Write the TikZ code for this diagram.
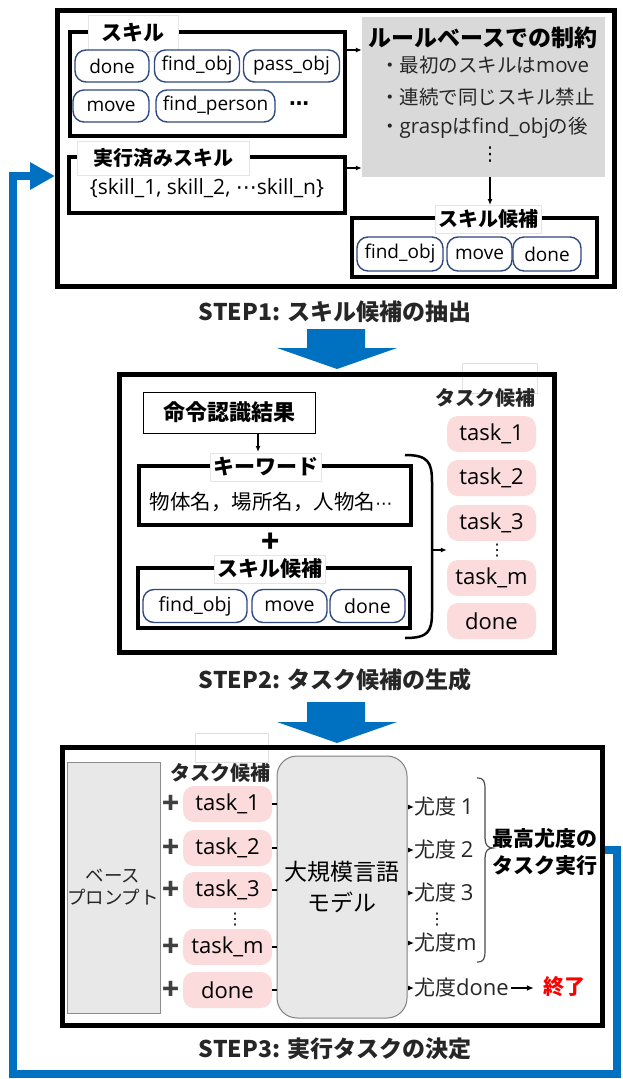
\documentclass[tikz,border=0pt]{standalone}
\usepackage{fontspec}
\setmainfont{Noto Sans CJK JP}
\newfontfamily\lat{Open Sans}
\newfontfamily\dv{DejaVu Sans}
\usetikzlibrary{arrows.meta,fit,calc}
\definecolor{bblue}{RGB}{0,112,192}
\definecolor{pillblue}{RGB}{47,72,128}
\definecolor{pinkfill}{RGB}{251,219,219}
\definecolor{rulegray}{RGB}{217,217,217}
\definecolor{boxgray}{RGB}{232,232,232}
\definecolor{plusgray}{RGB}{64,64,64}
\newcommand{\fsz}[1]{\fontsize{#1}{#1}\selectfont}
\newcommand{\vd}{{\dv ⋮}}
\newcommand{\hd}{{\dv ⋯}}
\tikzset{
  frame/.style={draw=black, line width=5pt, inner sep=0pt},
  subframe/.style={draw=black, line width=3.5pt, inner sep=0pt},
  skillpill/.style={draw=pillblue, line width=1.4pt, rounded corners=11pt, fill=white,
     minimum height=32pt, inner sep=0pt, font=\lat\fsz{19}},
  taskpill/.style={fill=pinkfill, rounded corners=11pt, minimum height=36pt,
     minimum width=89pt, inner sep=0pt, font=\lat\fsz{22}},
  lbl/.style={fill=white, draw=black!10, line width=0.6pt, font=\bfseries\fsz{20}, inner sep=3pt},
  sm/.style={-{Latex[length=6pt,width=5pt]}, line width=1.3pt},
  txt/.style={inner sep=0pt, font=\fsz{19}},
  title/.style={inner sep=0pt, font=\bfseries\fsz{23}, text=black!85},
  plus/.style={inner sep=0pt, font=\bfseries\fsz{30}},
  ghost/.style={draw=black!12, line width=0.6pt, fill=white},
  fb/.style={draw=bblue, line width=8pt, -{Triangle[length=25pt,width=26pt]}},
  blockarrow/.style={fill=bblue}
}
\begin{document}
\begin{tikzpicture}[x=1pt,y=-1pt]
\useasboundingbox (0,0) rectangle (622,1079);

% ================= STEP 1 =================
\node[frame, fit={(57.5,10) (614,286)}] (step1) {};

\node[subframe, fit={(70,32) (345,136)}] (skillbox) {};
\node[lbl, minimum width=90pt, minimum height=36pt, font=\bfseries\fsz{21}] (skilllbl) at (133,33) {スキル};
\node[skillpill, minimum width=74pt] (s1) at (112,66) {done};
\node[skillpill, minimum width=85pt] (s2) at (197,66) {find\_obj};
\node[skillpill, minimum width=96pt] (s3) at (291.5,66) {pass\_obj};
\node[skillpill, minimum width=76pt] (s4) at (111,106) {move};
\node[skillpill, minimum width=119pt] (s5) at (215.5,106) {find\_person};
\node[inner sep=0pt, font=\dv\bfseries\fsz{20}] (sdots) at (299,106) {⋯};

\node[subframe, fit={(69,157) (345,213)}] (execbox) {};
\node[lbl, minimum width=172pt, minimum height=34pt] (execlbl) at (163,158) {実行済みスキル};
\node[txt, font=\lat\fsz{21}] (exectxt) at (207,188) {\{skill\_1, skill\_2, \hd skill\_n\}};

\node[fill=rulegray, inner sep=0pt, fit={(362,17) (605,177)}] (rulebox) {};
\node[inner sep=0pt, font=\bfseries\fsz{23}] (ruletitle) at (483,38) {ルールベースでの制約};
\node[txt, anchor=west, font=\fsz{19.5}, text=black!85] (r1) at (380,65) {・最初のスキルは{\lat\fsz{20.5}move}};
\node[txt, anchor=west, font=\fsz{19.5}, text=black!85] (r2) at (380,97) {・連続で同じスキル禁止};
\node[txt, anchor=west, font=\fsz{19.5}, text=black!85] (r3) at (380,128) {・{\lat\fsz{20.5}grasp}は{\lat\fsz{20.5}find\_obj}の後};
\node[txt, font=\fsz{19}] (rdots) at (490,155) {\vd};

\draw[sm] (skillbox.east |- 0,50) -- (rulebox.west |- 0,50);
\draw[sm] (execbox.east |- 0,168) -- (rulebox.west |- 0,168);

\node[subframe, fit={(352,218) (597,277)}] (candbox) {};
\draw[sm] (rulebox.south -| 490,0) -- (490,205);
\node[lbl, minimum width=103pt, minimum height=28pt] (candlbl) at (488,219) {スキル候補};
\node[skillpill, minimum width=86pt, minimum height=34pt] (c1) at (400,254) {find\_obj};
\node[skillpill, minimum width=65pt, minimum height=34pt] (c2) at (479.5,254) {move};
\node[skillpill, minimum width=68pt, minimum height=34pt] (c3) at (547,254) {done};

\node[title] (t1) at (335,312) {STEP1: スキル候補の抽出};

% block arrow 1
\fill[blockarrow] (307,329) -- (365,329) -- (365,348) -- (397,348) -- (337,369) -- (277,348) -- (307,348) -- cycle;

% ================= STEP 2 =================
\node[ghost, fit={(462,363) (537,393)}, inner sep=0pt] (ghost2) {};
\node[frame, fit={(119,374) (554,652)}] (step2) {};

\node[draw=black, line width=1pt, fit={(143,392) (315,433)}, inner sep=0pt] (cmdbox) {};
\node[inner sep=0pt, font=\bfseries\fsz{22}] (cmdtxt) at (229,412) {命令認識結果};

\node[subframe, fit={(139,466) (411,525)}] (kwbox) {};
\draw[sm] (cmdbox.south -| 258,0) -- (258,452);
\node[lbl, minimum width=105pt, minimum height=28pt, font=\bfseries\fsz{21}] (kwlbl) at (266,467) {キーワード};
\node[txt, font=\fsz{20.5}] (kwtxt) at (271,502) {物体名，場所名，人物名{\fsz{17}\hd}};

\node[plus] (plus2) at (271,543) {+};

\node[subframe, fit={(138,568) (410,628)}] (cand2box) {};
\node[lbl, minimum width=105pt, minimum height=28pt, font=\bfseries\fsz{21}] (cand2lbl) at (270,569) {スキル候補};
\node[skillpill, minimum width=104pt, minimum height=33pt, font=\lat\fsz{19.5}] (d1) at (195,606) {find\_obj};
\node[skillpill, minimum width=75pt, minimum height=33pt, font=\lat\fsz{19.5}] (d2) at (289.5,606) {move};
\node[skillpill, minimum width=75pt, minimum height=33pt, font=\lat\fsz{19.5}] (d3) at (367.5,606) {done};

% bracket
\draw[line width=2.5pt] (405,455) .. controls (428,455) and (432,462) .. (432,482) -- (432,612) .. controls (432,632) and (428,638) .. (405,638);
\coordinate (brmid) at (432,550);

\node[inner sep=0pt, font=\bfseries\fsz{20}, text=black!85] (tasklbl2) at (485,398) {タスク候補};
\node[taskpill] (k1) at (491.5,434) {task\_1};
\node[taskpill] (k2) at (491.5,478) {task\_2};
\node[taskpill] (k3) at (491.5,523) {task\_3};
\node[txt, font=\fsz{16}] (kdots) at (497,551) {\vd};
\node[taskpill] (km) at (491.5,578) {task\_m};
\node[taskpill] (kd) at (491.5,621) {done};
\draw[sm] (brmid) -- (k1.west |- brmid);

\node[title] (t2) at (335,680) {STEP2: タスク候補の生成};

% block arrow 2
\fill[blockarrow] (307,702) -- (365,702) -- (365,722) -- (397,722) -- (337,743) -- (277,722) -- (307,722) -- cycle;

% ================= STEP 3 =================
\node[ghost, fit={(195,733) (268,762)}, inner sep=0pt] (ghost3) {};
\node[frame, fit={(62.5,747) (602,1025)}] (step3) {};

\node[fill=boxgray, draw=black!45, line width=1pt, fit={(67,762) (160,1013)}, inner sep=0pt] (base) {};
\node[inner sep=0pt, font=\fsz{18.5}, align=center, text=black!85] (basetxt) at (113,887) {ベース\\[4pt]プロンプト};

\node[inner sep=0pt, font=\bfseries\fsz{20}, text=black!85] (tasklbl3) at (220,773) {タスク候補};

\node[fill=boxgray, draw=black!50, line width=1pt, rounded corners=20pt, fit={(277,756) (407,1018)}, inner sep=0pt] (llm) {};
\node[inner sep=0pt, font=\fsz{23}, align=center] (llmtxt) at (342,887) {大規模言語\\[8pt]モデル};

\foreach \n/\y/\t in {p1/804/task\_1, p2/848/task\_2, p3/890/task\_3, pm/947/task\_m, pd/990/done}{
  \node[taskpill] (\n) at (227.5,\y) {\t};
  \node[plus, text=plusgray, font=\bfseries\fsz{28}] (plus\n) at (171,\y) {+};
  \draw[line width=2pt] (\n.east) -- (llm.west |- \n.east);
}
\node[txt, font=\fsz{16}] (pdots) at (235,920) {\vd};

\foreach \n/\y/\t in {o1/807/{尤度 {\lat\fsz{22}1}}, o2/850/{尤度 {\lat\fsz{22}2}}, o3/893/{尤度 {\lat\fsz{22}3}}, om/943/{尤度{\lat\fsz{22}m}}, od/988/{尤度{\lat\fsz{22}done}}}{
  \node[txt, anchor=west, font=\fsz{21}, text=black!85] (\n) at (414,\y) {\t};
  \draw[sm, line width=1.1pt] (llm.east |- \n.west) -- (\n.west);
}
\node[txt, font=\fsz{16}] (odots) at (437,920) {\vd};
\node[inner sep=0pt, font=\bfseries\fsz{21}, text=red] (endtxt) at (564,987) {終了};
\draw[-{Latex[length=7pt,width=6pt]}, line width=2pt] ($(od.east)+(2,0)$) -- ($(endtxt.west |- od.east)+(-9,0)$);
% brace
\draw[line width=1.2pt, draw=black!70] (477,778) .. controls (484,778) and (485,781) .. (485,790) -- (485,838) .. controls (485,845) and (488,848) .. (493,848) .. controls (488,848) and (485,851) .. (485,858) -- (485,950) .. controls (485,959) and (484,962) .. (477,962);
\node[inner sep=0pt, font=\bfseries\fsz{21}, align=center] (besttxt) at (545,852) {最高尤度の\\[6pt]タスク実行};

\node[title] (t3) at (335,1049) {STEP3: 実行タスクの決定};

% ================= feedback =================
\coordinate (fbc1) at (617,850);
\coordinate (fbc2) at (617,1074);
\coordinate (fbc3) at (13,1074);
\coordinate (fbc4) at (13,176);
\draw[fb] (step3.east |- fbc1) -- (fbc1) -- (fbc2) -- (fbc3) -- (fbc4) -- (step1.west |- fbc4);
\end{tikzpicture}
\end{document}
